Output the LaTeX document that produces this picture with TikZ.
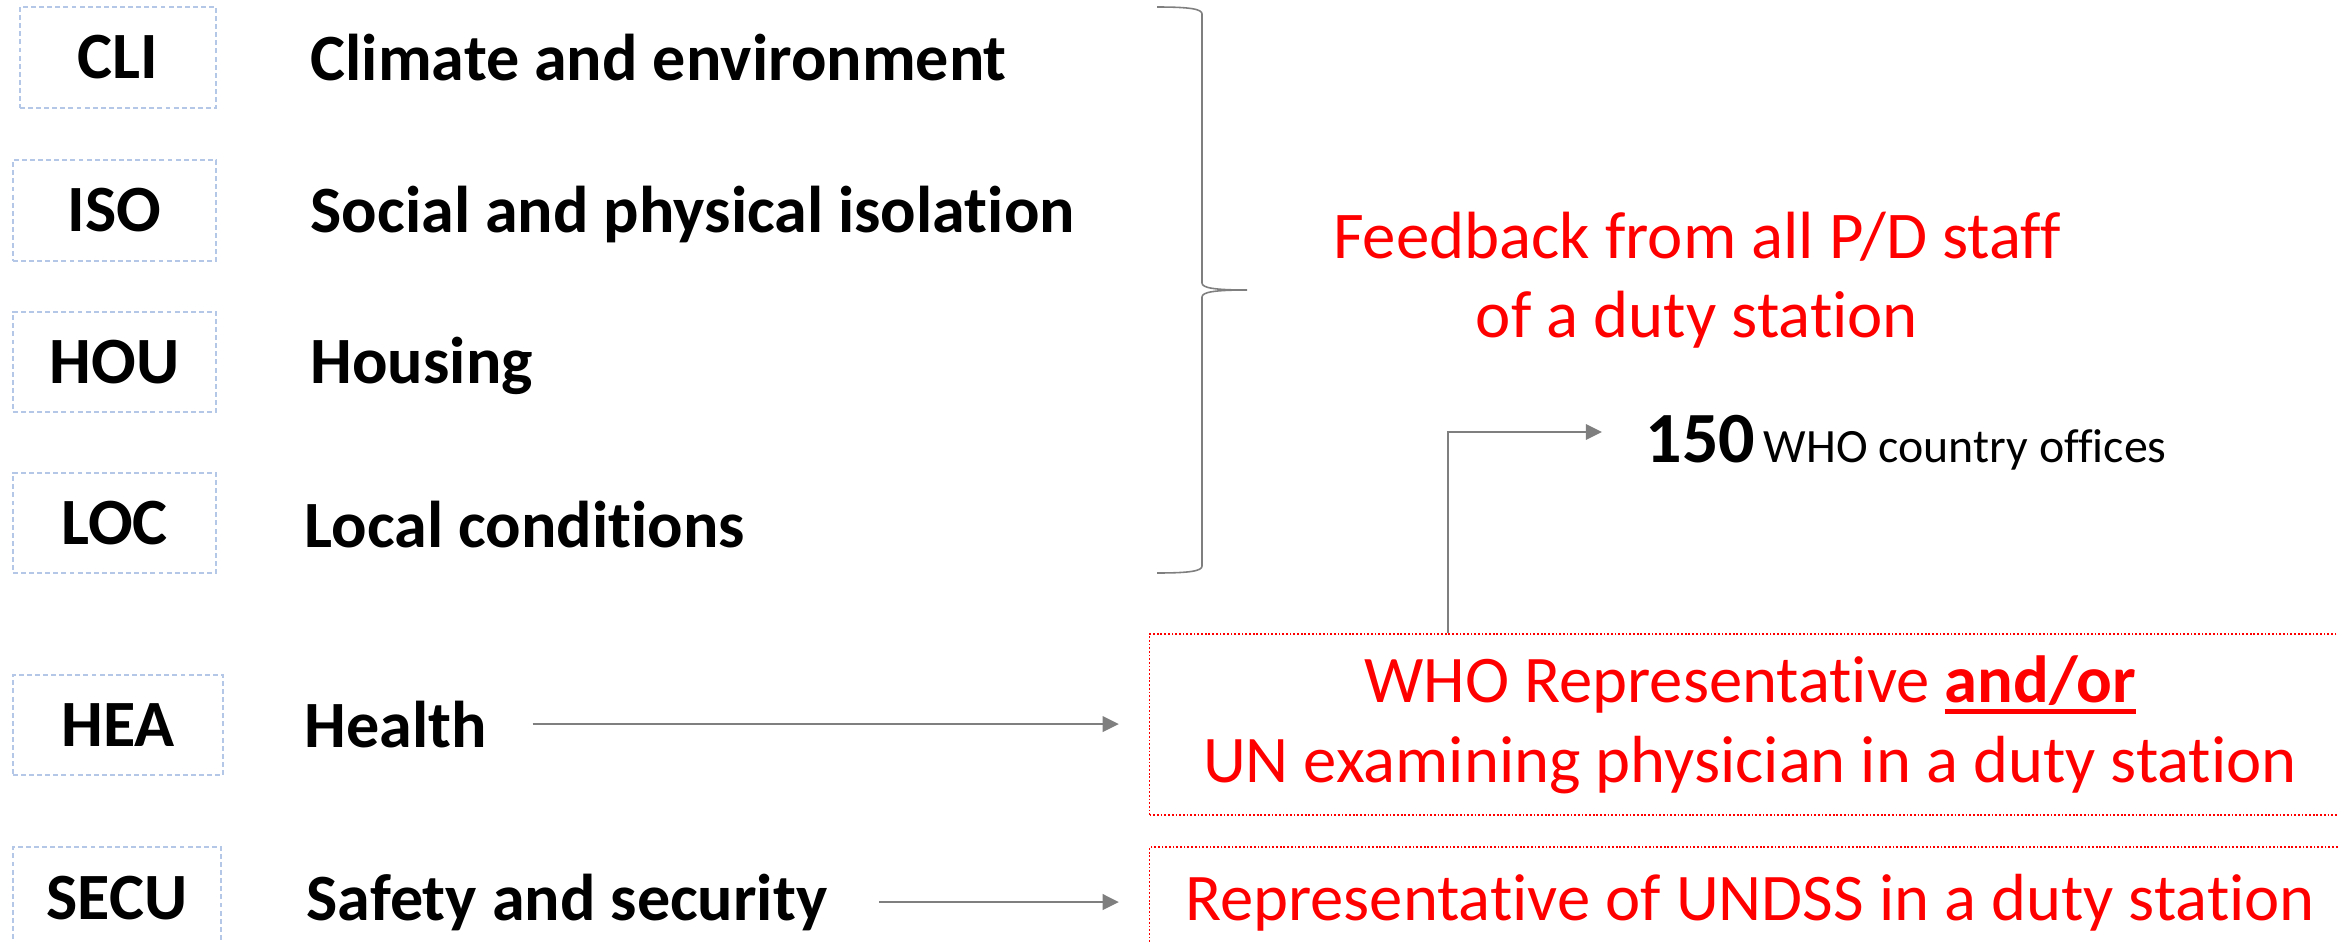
\documentclass[tikz,border=0pt]{standalone}
\usepackage{fontspec}
\setmainfont{Carlito}[Ligatures=NoCommon, RawFeature={-calt;-liga;-clig;-dlig;-rlig}]
\usetikzlibrary{arrows.meta}
\definecolor{codeblue}{HTML}{B4C7E7}
\definecolor{linegray}{HTML}{7F7F7F}
\newcommand\ulword[1]{\setbox0\hbox{#1}\rlap{\rule[-3.4pt]{\wd0}{1.4pt}}\box0}
\newcommand\nolig{\kern0pt}

\begin{document}
\begin{tikzpicture}[x=0.01cm, y=-0.01cm,
    codebox/.style={draw=codeblue, dash pattern=on 1.4pt off 0.9pt, line width=0.45pt,
        inner sep=0pt, font=\fontsize{18.8}{22}\selectfont\bfseries},
    factorlabel/.style={anchor=base west, inner sep=0pt, font=\fontsize{18.8}{22}\selectfont\bfseries},
    respbox/.style={draw=red, dash pattern=on 0.5pt off 0.55pt, line width=0.45pt, text=red,
        align=center, inner sep=0pt, minimum width=12cm, font=\fontsize{18.95}{22.8}\selectfont},
    arr/.style={linegray, line width=0.65pt, -{Triangle[length=4.6pt,width=4.4pt]}}]
    \useasboundingbox (0,0) rectangle (2338,942);

    % hardship codes
    \node[codebox, minimum width=1.96cm, minimum height=1.01cm] (cli) at (118,57.5) {CLI};
    \node[codebox, minimum width=2.03cm, minimum height=1.01cm] (iso) at (114.5,210.5) {ISO};
    \node[codebox, minimum width=2.03cm, minimum height=1cm] (hou) at (114.5,362) {HOU};
    \node[codebox, minimum width=2.03cm, minimum height=1cm] (loc) at (114.5,523) {LOC};
    \node[codebox, minimum width=2.1cm, minimum height=1cm] (hea) at (118,725) {HEA};
    \node[codebox, minimum width=2.08cm, minimum height=1.03cm] (secu) at (117,898.5) {SECU};

    \node[factorlabel] (climate) at (310,80) {Climate and environment};
    \node[factorlabel] (isolation) at (310,232) {Social and physical isolat\nolig ion};
    \node[factorlabel] (housing) at (310,383) {Housing};
    \node[factorlabel] (local) at (304,547) {Local conditions};
    \node[factorlabel] (health) at (304,747) {Health};
    \node[factorlabel] (safety) at (306,920) {Safety and security};

    % brace over the first four
    \draw[linegray, line width=0.45pt] (1157,7) .. controls (1190,7) and (1202,9) .. (1202,14)
        -- (1202,283) .. controls (1202,288) and (1215,290) .. (1247,290)
        .. controls (1215,290) and (1202,292) .. (1202,297)
        -- (1202,566) .. controls (1202,571) and (1190,573) .. (1157,573);

    \node[text=red, align=center, inner sep=0pt, font=\fontsize{19}{22.5}\selectfont] (feedback)
        at (1697,280) {Feedback from all P/D staff\\of a duty stat\nolig ion};

    \node[anchor=base west, inner sep=0pt] (offices) at (1645,462)
        {\fontsize{20.5}{24}\selectfont\bfseries 150\hspace{0.12em}\fontsize{13.6}{17}\selectfont\mdseries WHO country offices};

    \node[respbox, minimum height=1.81cm] (whorep) at (1750,724.5)
        {WHO Representat\nolig ive \ulword{\bfseries and/or}\\UN examining physician in a duty stat\nolig ion};
    \node[respbox, minimum height=1.12cm] (undss) at (1750,903)
        {Representat\nolig ive of UNDSS in a duty stat\nolig ion};

    \coordinate (bend) at (1448,432);
    \draw[arr, shorten <=0.45cm, shorten >=0.3cm] (health.east) -- (health.east -| whorep.west);
    \draw[arr, shorten <=0.51cm, shorten >=0.3cm] (safety.east) -- (safety.east -| undss.west);
    \draw[arr, shorten >=0.43cm] (bend |- whorep.north) -- (bend) -- (bend -| offices.west);
\end{tikzpicture}
\end{document}
